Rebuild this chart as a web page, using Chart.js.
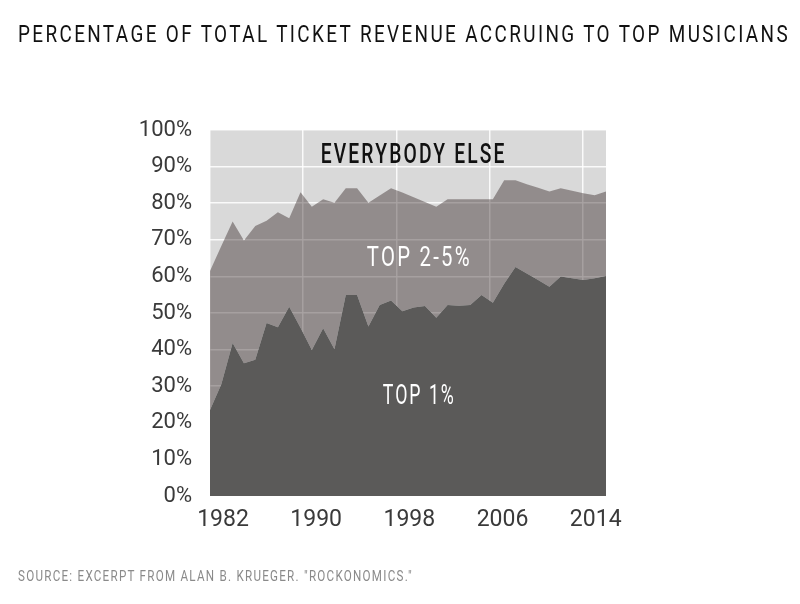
<!DOCTYPE html>
<html>
<head>
<meta charset="utf-8">
<script src="https://cdn.jsdelivr.net/npm/chart.js@4"></script>
<style>
  html, body { margin: 0; padding: 0; background: #fff; }
  #wrap { position: relative; width: 800px; height: 604px; overflow: hidden; }
  .fit {
    position: absolute; left: 18px; white-space: nowrap;
    font-family: Roboto, "Liberation Sans", sans-serif;
    transform-origin: 0 50%;
  }
  #title { top: 20px; font-size: 24px; letter-spacing: 3px; color: #111; }
  #source { top: 568px; font-size: 14px; letter-spacing: 1.5px; color: #8a8a8a; }
</style>
</head>
<body>
<div id="wrap">
  <canvas id="chart" width="800" height="604"></canvas>
  <div id="title" class="fit" data-w="772">PERCENTAGE OF TOTAL TICKET REVENUE ACCRUING TO TOP MUSICIANS</div>
  <div id="source" class="fit" data-w="395">SOURCE: EXCERPT FROM ALAN B. KRUEGER. "ROCKONOMICS."</div>
</div>
<script>
// years 1982..2017
const years = [];
for (let y = 1982; y <= 2017; y++) years.push(y);

// share of ticket revenue
const top1Share = [23.5, 30.5, 41.8, 36.3, 37.2, 47.3, 46.1, 51.7, 46.0, 39.9,
                   45.8, 40.1, 54.9, 54.9, 46.3, 52.2, 53.4, 50.5, 51.5, 51.9,
                   48.7, 52.2, 52.0, 52.2, 54.9, 52.8, 58.0, 62.6, 60.8, 59.0,
                   57.2, 60.0, 59.5, 59.0, 59.5, 60.1];
// top 5% combined (top 1% + top 2-5%)
const top5Share = [61.5, 68.3, 75.0, 69.8, 73.8, 75.2, 77.5, 75.9, 83.0, 79.0,
                   81.1, 80.1, 84.1, 84.1, 80.1, 82.1, 84.1, 82.9, 81.6, 80.3,
                   79.0, 81.1, 81.1, 81.1, 81.1, 81.1, 86.3, 86.3, 85.2, 84.2,
                   83.2, 84.1, 83.4, 82.7, 82.2, 83.2];

const xTickYears = [1982, 1990, 1998, 2006, 2014];

const FONT = 'Roboto, "Liberation Sans", sans-serif';

// squeeze the html texts to the width they take in the picture
document.querySelectorAll('.fit').forEach(el => {
    const w = el.getBoundingClientRect().width;
    el.style.transform = 'scaleX(' + (Number(el.dataset.w) / w) + ')';
});

const areaBg = {
    id: 'areaBg',
    beforeDraw(chart) {
        const { ctx, chartArea: a } = chart;
        ctx.save();
        ctx.fillStyle = '#d9d9d9';
        ctx.fillRect(a.left, a.top, a.right - a.left, a.bottom - a.top);
        ctx.restore();
    }
};

// text labels sitting inside the bands
const bandLabels = {
    id: 'bandLabels',
    afterDatasetsDraw(chart) {
        const { ctx, scales } = chart;
        const items = [
            { text: 'EVERYBODY ELSE', x: 2000.0, y: 92.8, color: '#111', w: 186, weight: '500' },
            { text: 'TOP 2-5%', x: 2000.5, y: 64.8, color: '#fff', w: 105, weight: '400' },
            { text: 'TOP 1%', x: 2000.5, y: 27, color: '#fff', w: 73, weight: '400' }
        ];
        ctx.save();
        ctx.textAlign = 'center';
        ctx.textBaseline = 'middle';
        items.forEach(it => {
            ctx.font = it.weight + ' 27px ' + FONT;
            if ('letterSpacing' in ctx) ctx.letterSpacing = '3px';
            const tw = ctx.measureText(it.text).width;
            const px = scales.x.getPixelForValue(it.x);
            const py = scales.y.getPixelForValue(it.y);
            ctx.save();
            ctx.translate(px, py);
            ctx.scale(it.w / tw, 1);
            ctx.fillStyle = it.color;
            ctx.fillText(it.text, 0, 0);
            ctx.restore();
        });
        ctx.restore();
    }
};

const ctx = document.getElementById('chart').getContext('2d');
new Chart(ctx, {
    type: 'line',
    data: {
        labels: years,
        datasets: [
            {
                label: 'Top 1%',
                data: top1Share,
                fill: 'origin',
                backgroundColor: '#5b5a59',
                borderColor: 'transparent',
                borderWidth: 0,
                pointRadius: 0,
                tension: 0
            },
            {
                label: 'Top 2-5%',
                data: top5Share,
                fill: '-1',
                backgroundColor: 'rgba(40,25,25,0.40)',
                borderColor: 'transparent',
                borderWidth: 0,
                pointRadius: 0,
                tension: 0
            }
        ]
    },
    options: {
        responsive: false,
        animation: false,
        layout: { padding: { left: 0, right: 194, top: 130, bottom: 58 } },
        plugins: {
            legend: { display: false },
            tooltip: { enabled: false }
        },
        scales: {
            x: {
                type: 'linear',
                min: 1982,
                max: 2017,
                display: false
            },
            // the grid in the picture runs on a slightly wider step than the data
            xg: {
                type: 'linear',
                position: 'bottom',
                min: 1982,
                max: 2016,
                afterBuildTicks: (scale) => {
                    scale.ticks = xTickYears.map(v => ({ value: v }));
                },
                afterFit: (scale) => { scale.height = 50; },
                ticks: {
                    autoSkip: false,
                    maxRotation: 0,
                    labelOffset: 13,
                    padding: 10,
                    color: '#3a3a3a',
                    font: { family: FONT, size: 23 },
                    callback: (v) => String(v)
                },
                grid: { color: 'rgba(255,255,255,0.85)', lineWidth: 1.5, drawTicks: false },
                border: { display: false }
            },
            y: {
                min: 0,
                max: 100,
                afterFit: (scale) => { scale.width = 210; },
                ticks: {
                    stepSize: 10,
                    padding: 18,
                    color: '#3a3a3a',
                    font: { family: FONT, size: 22 },
                    callback: (v) => v + '%'
                },
                grid: { color: 'rgba(255,255,255,0.85)', lineWidth: 1.5, drawTicks: false },
                border: { display: false }
            }
        }
    },
    plugins: [areaBg, bandLabels]
});
</script>
</body>
</html>
